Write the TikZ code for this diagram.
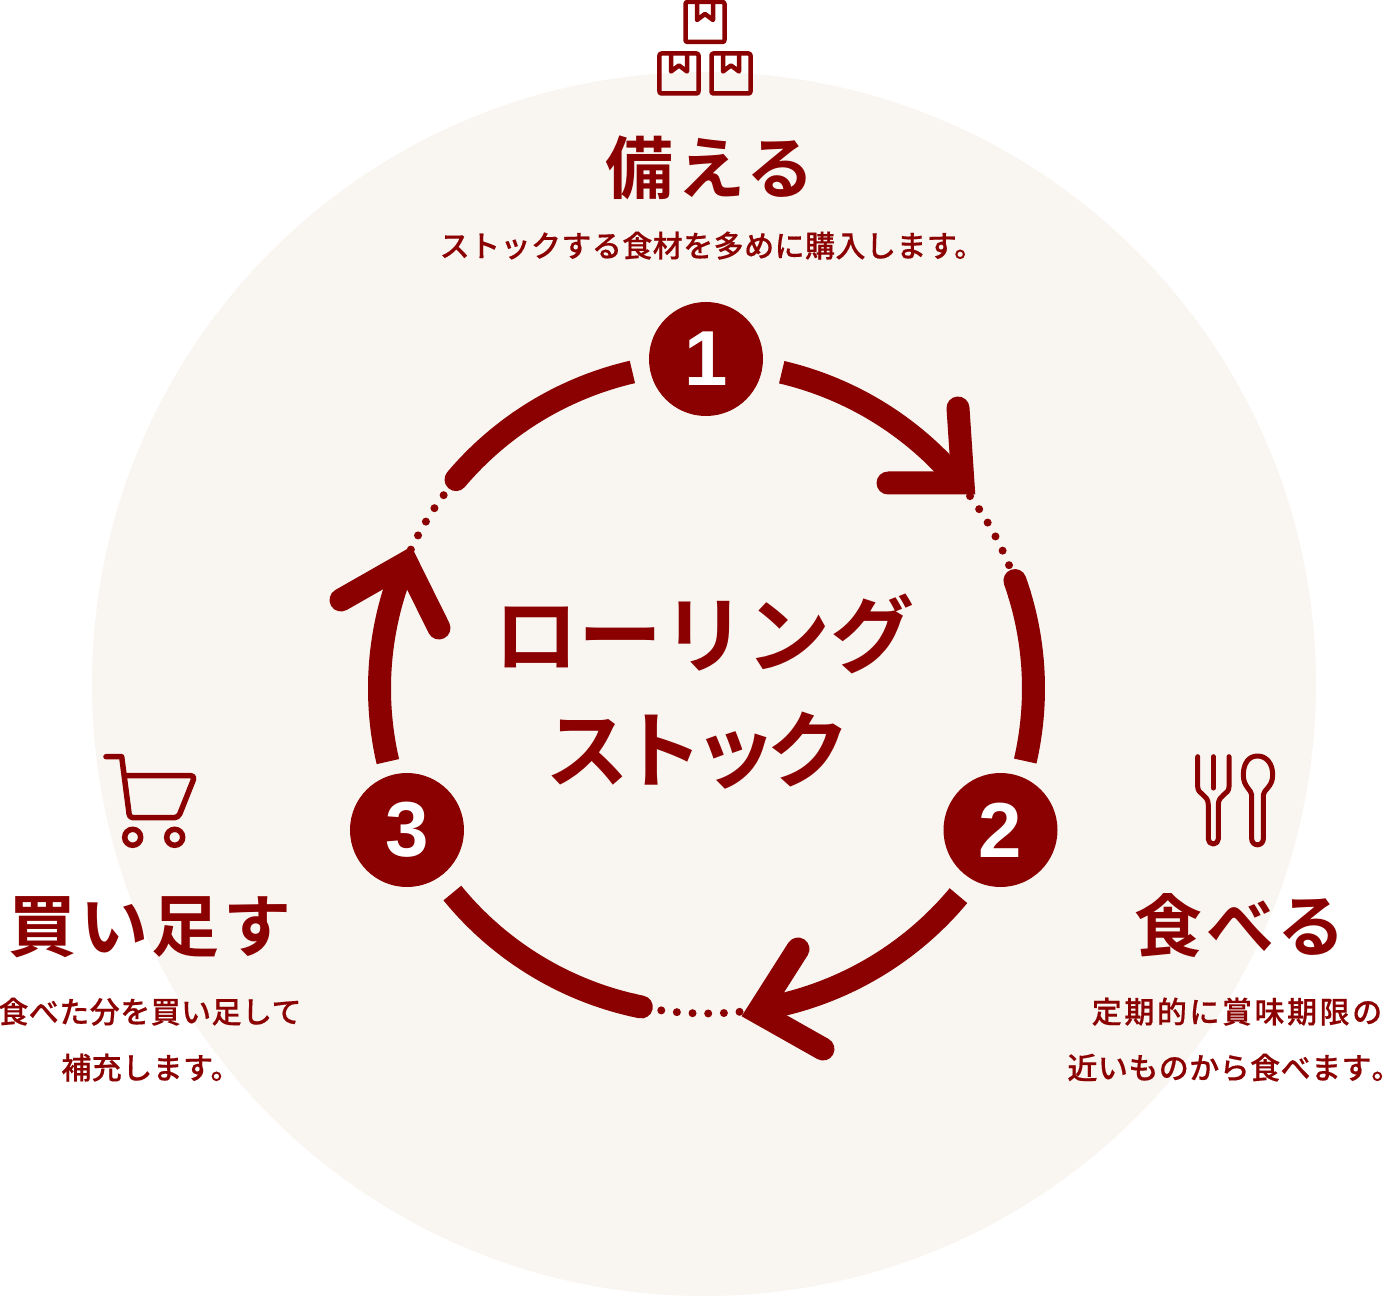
\documentclass[tikz,border=0pt]{standalone}
\usepackage{fontspec}
\newfontfamily\headfont[LetterSpace=5]{Noto Sans CJK JP Bold}
\newfontfamily\midfont{Noto Sans CJK JP Bold}
\newfontfamily\midtightfont[LetterSpace=-12]{Noto Sans CJK JP Bold}
\newfontfamily\subfont[LetterSpace=1.5, FakeBold=0.4]{Noto Sans CJK JP Medium}
\newfontfamily\subwidefont[LetterSpace=8.5, FakeBold=0.4]{Noto Sans CJK JP Medium}
\newfontfamily\numfont{Liberation Sans Bold}
\definecolor{rollred}{HTML}{8B0000}
\definecolor{rollbg}{HTML}{F9F6F2}
\tikzset{
	ringline/.style={draw=rollred, line width=23pt},
	headline/.style={ringline, line cap=round, miter limit=4, line join=miter},
	iconline/.style={draw=rollred, line width=5pt, line cap=round, line join=round},
	numnode/.style={circle, fill=rollred, text=white, minimum size=114pt, inner sep=0pt, font=\numfont\fontsize{78}{78}\selectfont},
	headtext/.style={anchor=base, text=rollred, inner sep=0pt, font=\headfont\fontsize{68}{68}\selectfont},
	midtext/.style={anchor=base, text=rollred, inner sep=0pt, font=\midfont\fontsize{84}{84}\selectfont},
	subtext/.style={anchor=base, text=rollred, inner sep=0pt, font=\subfont\fontsize{30}{30}\selectfont},
	boxicon/.pic={
		\draw[iconline, line width=4.5pt, rounded corners=2pt] (-19.5,0) rectangle (19.5,-40);
		\draw[iconline, line width=4.5pt] (-8,0)--(-8,-18)--(0,-12)--(8,-18)--(8,0);
	}
}
\begin{document}
\begin{tikzpicture}[x=1pt, y=1pt, declare function={r=327; q=325;}]
	\useasboundingbox (-706,-609) rectangle (680,687);
	\path (0,0) coordinate (O) (-2,3) coordinate (C) (0.5,-1.5) coordinate (R)
	(257,204) coordinate (A1) (252,279) coordinate (A1a) (182,204) coordinate (A1b)
	(51.8,-325.2) coordinate (A2) (92,-262) coordinate (A2a) (117,-362) coordinate (A2b)
	(-299.4,124.4) coordinate (A3) (-365,87) coordinate (A3a) (-267,59) coordinate (A3b);
	\fill[rollbg] (C) circle (612);
	% ring
	\begin{scope}[shift={(R)}]
	\draw[ringline] (76.7:r and q) arc (76.7:38.4:r and q);
	\draw[ringline, line cap=round] (19.4:r and q) arc (19.4:17:r and q);
	\draw[ringline] (17:r and q) arc (17:-12.9:r and q);
	\draw[ringline] (-39.6:r and q) arc (-39.6:-81:r and q);
	\draw[ringline, line cap=round] (-101.5:r and q) arc (-101.5:-103:r and q);
	\draw[ringline] (-103:r and q) arc (-103:-141:r and q);
	\draw[ringline] (-167:r and q) arc (-167:-202.6:r and q);
	\draw[ringline, line cap=round] (140:r and q) arc (140:125:r and q);
	\draw[ringline] (125:r and q) arc (125:103.1:r and q);
	\foreach \a in {36.3,33.5,...,22.0,-84.2,-86.95,...,-98.5,154.7,151.9,...,143}{
		\fill[rollred] (\a:r and q) circle (4);
	}
	\end{scope}
	\draw[headline] (A1a)--(A1)--(A1b);
	\draw[headline] (A2a)--(A2)--(A2b);
	\draw[headline] (A3a)--(A3)--(A3b);
	\node[numnode] (n1) at (0,328) {1};
	\node[numnode] (n2) at (294.5,-143) {2};
	\node[numnode] (n3) at (-299,-143) {3};
	% centre
	\node[midtext] (t1) at (-1,21) {ローリング};
	\node[midtext, font=\midtightfont\fontsize{84}{84}\selectfont] (t2) at (-8,-94) {ストック};
	% top
	\path (-1,685) pic {boxicon} (-27,633.5) pic {boxicon} (25,633.5) pic {boxicon};
	\node[headtext] (h1) at (4,493) {備える};
	\node[subtext] (s1) at (6,430) {ストックする食材を多めに購入します。};
	% right
	\draw[iconline] (491.7,-69.7)--(491.7,-99.7) .. controls (491.7,-108) and (502.3,-107) .. (502.3,-118)--(502.3,-152) arc (180:360:5)--(512.3,-118) .. controls (512.3,-107) and (523,-108) .. (523,-99.7)--(523,-69.7);
	\draw[iconline] (507.3,-69.7)--(507.3,-101);
	\draw[iconline] (545.7,-108)--(545.7,-152) arc (180:360:5.8)--(557.3,-108) .. controls (557.3,-103) and (566.7,-100) .. (566.7,-88) .. controls (566.7,-76) and (560,-69) .. (551.5,-69) .. controls (543,-69) and (537.3,-76) .. (537.3,-88) .. controls (537.3,-100) and (545.7,-103) .. (545.7,-108);
	\node[headtext] (h2) at (534,-264) {食べる};
	\node[subtext, font=\subwidefont\fontsize{30}{30}\selectfont] (s2a) at (531,-336) {定期的に賞味期限の};
	\node[subtext] (s2b) at (513.5,-392) {近いものから食べます\rlap{。}};
	% left
	\draw[iconline, line width=5.5pt] (-600,-69.7)--(-584.3,-69.7)--(-577,-126) [rounded corners=4pt] -- (-577,-130.7)--(-527.7,-130.7)--(-511,-88.7)--(-580,-88.7);
	\draw[draw=rollred, line width=5.5pt] (-573.3,-150.3) circle (8) (-531.3,-150.3) circle (8);
	\node[headtext] (h3) at (-556,-264) {買い足す};
	\node[subtext] (s3a) at (-556,-336) {食べた分を買い足して};
	\node[subtext] (s3b) at (-555,-392) {補充します。};
\end{tikzpicture}
\end{document}
